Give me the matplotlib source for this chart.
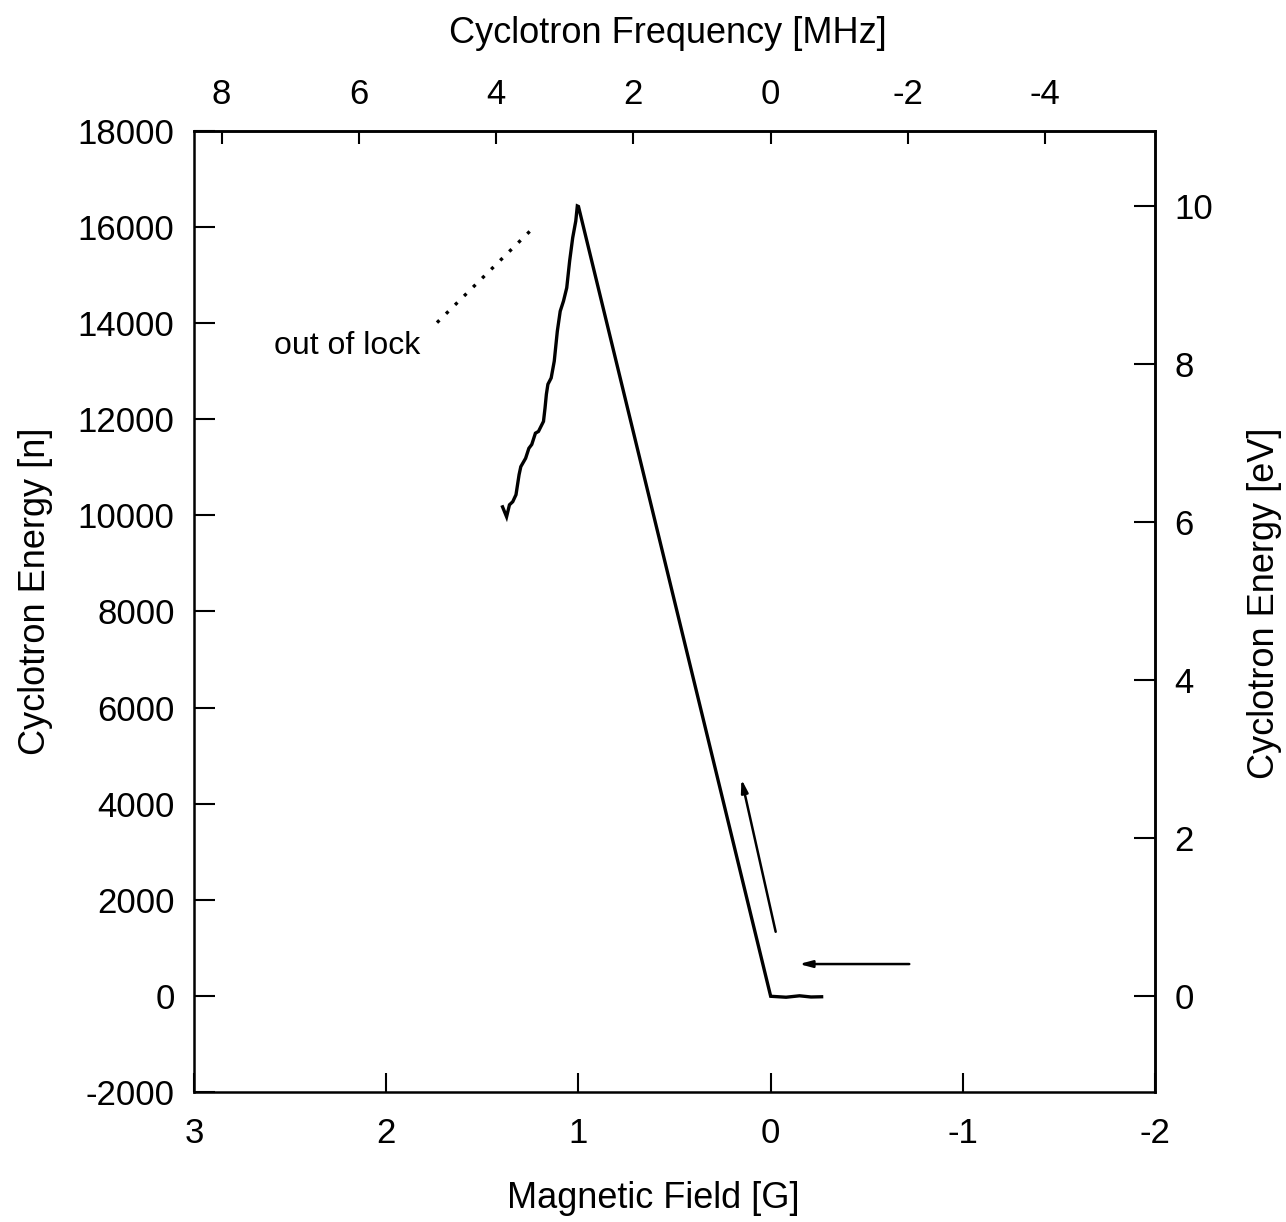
import matplotlib
matplotlib.use("Agg")
import matplotlib.pyplot as plt

plt.rcParams["font.family"] = ["Liberation Sans", "DejaVu Sans"]
plt.rcParams["axes.unicode_minus"] = False

# Measured trace: magnetic field sweep [G] vs cyclotron energy [quantum number n]
field_G = [1.395, 1.374, 1.359, 1.342, 1.325, 1.309, 1.300, 1.275, 1.258, 1.243,
           1.224, 1.208, 1.182, 1.174, 1.167, 1.159, 1.142, 1.126, 1.110, 1.095,
           1.078, 1.061, 1.046, 1.030, 1.014, 1.006, 1.000, 0.000, -0.08, -0.15,
           -0.21, -0.265]
energy_n = [10175, 9969, 10218, 10282, 10428, 10844, 11011, 11185, 11393, 11472,
            11707, 11744, 11952, 12229, 12515, 12724, 12855, 13204, 13828, 14243,
            14453, 14730, 15285, 15771, 16119, 16431, 16420, 0, -20, 10,
            -15, -10]

# Out-of-lock excursion (dotted)
lock_G = [1.736, 1.222]
lock_n = [14006, 16027]

# Sweep direction arrows: (tail, head) in data units
arrow_up = ((-0.026, 1341), (0.152, 4514))
arrow_left = ((-0.721, 670), (-0.148, 670))

x_ticks = [3, 2, 1, 0, -1, -2]
y_ticks = [-2000, 0, 2000, 4000, 6000, 8000, 10000, 12000, 14000, 16000, 18000]
ev_ticks = [0, 2, 4, 6, 8, 10]
mhz_ticks = [8, 6, 4, 2, 0, -2, -4]

EV_PER_N = 6.088e-4     # cyclotron quantum energy in eV
MHZ_PER_G = 2.8         # frequency shift per gauss

fig = plt.figure(figsize=(12.86, 12.22), dpi=100)
ax = fig.add_axes([0.1509, 0.106, 0.7473, 0.7872])

ax.plot(field_G, energy_n, color="black", lw=2.4, solid_joinstyle="miter")
ax.plot(lock_G, lock_n, color="black", lw=2.4, linestyle=(0, (1, 2.8)))

for (t, h) in (arrow_up, arrow_left):
    ax.annotate("", xy=h, xytext=t,
                arrowprops=dict(arrowstyle="-|>,head_length=0.75,head_width=0.2",
                                color="black", lw=1.8, shrinkA=0, shrinkB=0),
                )

ax.text(2.584, 13510, "out of lock", fontsize=23, va="center", ha="left")

ax.set_xlim(3, -2)
ax.set_ylim(-2000, 18000)
ax.set_xticks(x_ticks)
ax.set_yticks(y_ticks)
ax.tick_params(axis="both", direction="in", width=1.5, labelsize=25)
ax.tick_params(axis="x", pad=18, length=14)
ax.tick_params(axis="y", pad=14, length=15)
for s in ax.spines.values():
    s.set_linewidth(1.8)

ax.set_xlabel("Magnetic Field [G]", fontsize=26)
ax.xaxis.set_label_coords(0.478, -0.092, transform=ax.transAxes)
ax.set_ylabel("Cyclotron Energy [n]", fontsize=26)
ax.yaxis.set_label_coords(-0.147, 0.521, transform=ax.transAxes)

sec_y = ax.secondary_yaxis("right", functions=(lambda n: n * EV_PER_N,
                                               lambda e: e / EV_PER_N))
sec_y.set_yticks(ev_ticks)
sec_y.tick_params(direction="in", length=15, width=1.5, labelsize=25, pad=14)
sec_y.spines["right"].set_linewidth(1.8)
sec_y.set_ylabel("Cyclotron Energy [eV]", fontsize=26)
sec_y.yaxis.set_label_coords(1.096, 0.509, transform=ax.transAxes)

sec_x = ax.secondary_xaxis("top", functions=(lambda b: b * MHZ_PER_G,
                                             lambda f: f / MHZ_PER_G))
sec_x.set_xticks(mhz_ticks)
sec_x.tick_params(direction="in", length=9, width=1.5, labelsize=25, pad=14)
sec_x.spines["top"].set_linewidth(1.8)
sec_x.set_xlabel("Cyclotron Frequency [MHz]", fontsize=26)
sec_x.xaxis.set_label_coords(0.493, 1.091, transform=ax.transAxes)

fig.savefig("out.png", dpi=100)
